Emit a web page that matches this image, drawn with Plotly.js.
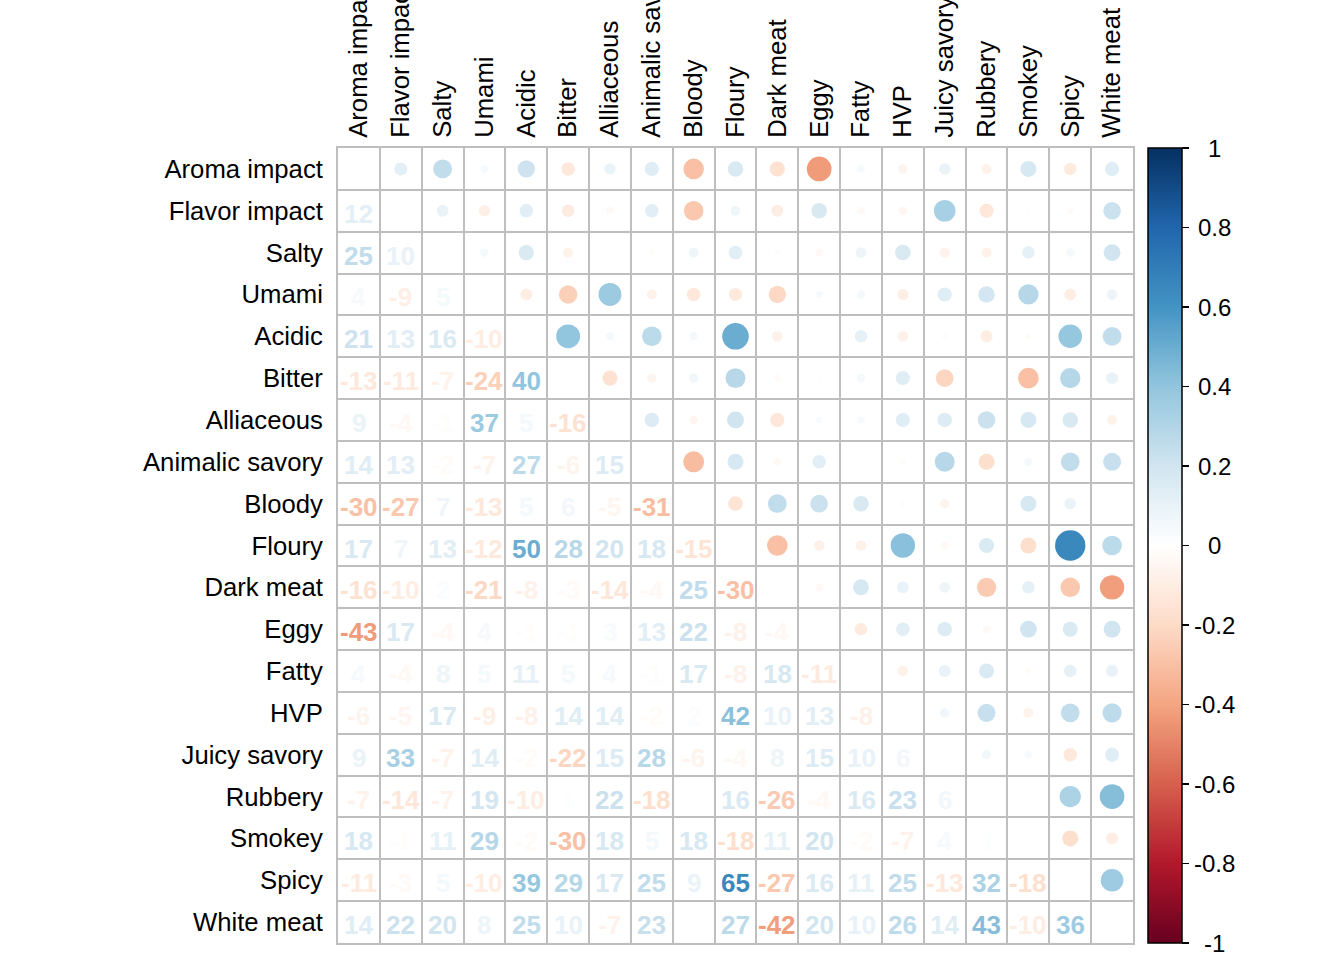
<!DOCTYPE html>
<html><head><meta charset="utf-8">
<script src="https://cdn.plot.ly/plotly-3.0.1.min.js"></script>
<style>body{margin:0;background:#fff}</style>
</head><body><div id="chart" style="width:1344px;height:960px"></div>
<script>
const labels = ["Aroma impact","Flavor impact","Salty","Umami","Acidic","Bitter","Alliaceous","Animalic savory","Bloody","Floury","Dark meat","Eggy","Fatty","HVP","Juicy savory","Rubbery","Smokey","Spicy","White meat"];
// lower triangle, correlation x 100 (row i, columns 0..i-1)
const corrLower = [
  [],
  [12],
  [25,10],
  [4,-9,5],
  [21,13,16,-10],
  [-13,-11,-7,-24,40],
  [9,-4,-1,37,5,-16],
  [14,13,-2,-7,27,-6,15],
  [-30,-27,7,-13,5,6,-5,-31],
  [17,7,13,-12,50,28,20,18,-15],
  [-16,-10,2,-21,-8,-3,-14,-4,25,-30],
  [-43,17,-4,4,-1,-1,3,13,22,-8,-4],
  [4,-4,8,5,11,5,4,-1,17,-8,18,-11],
  [-6,-5,17,-9,-8,14,14,-2,2,42,10,13,-8],
  [9,33,-7,14,-2,-22,15,28,-6,-4,8,15,10,6],
  [-7,-14,-7,19,-10,1,22,-18,0,16,-26,-4,16,23,6],
  [18,-1,11,29,-2,-30,18,5,18,-18,11,20,-2,-7,4,1],
  [-11,-3,5,-10,39,29,17,25,9,65,-27,16,11,25,-13,32,-18],
  [14,22,20,8,25,10,-7,23,0,27,-42,20,10,26,14,43,-10,36]
];
const colorStops = ["#67001F","#B2182B","#D6604D","#F4A582","#FDDBC7","#FFFFFF","#D1E5F0","#92C5DE","#4393C3","#2166AC","#053061"];
const cbTickVals = [-1,-0.8,-0.6,-0.4,-0.2,0,0.2,0.4,0.6,0.8,1];
const cbTickText = ["-1","-0.8","-0.6","-0.4","-0.2","0","0.2","0.4","0.6","0.8","1"];

function hex2rgb(h){return [parseInt(h.slice(1,3),16),parseInt(h.slice(3,5),16),parseInt(h.slice(5,7),16)];}
function colorFor(v){
  const t=(v+1)/2*(colorStops.length-1);
  const i=Math.min(Math.floor(t),colorStops.length-2);
  const f=t-i;
  const a=hex2rgb(colorStops[i]), b=hex2rgb(colorStops[i+1]);
  const c=a.map((x,k)=>Math.round(x+(b[k]-x)*f));
  return 'rgb('+c.join(',')+')';
}
const colorscale = colorStops.map((c,i)=>[i/(colorStops.length-1),c]);

const W=1344,H=960, mL=338, mT=148, mR=1344-1133, mB=960-943;
const n=labels.length;
const plotW=W-mL-mR;
const cell=plotW/n;
const font="Liberation Sans, Arial, sans-serif";

const annotations=[];
const cx=[],cy=[],cv=[],cs=[];
for(let i=0;i<n;i++){
  for(let j=0;j<i;j++){
    const v=corrLower[i][j]/100;
    annotations.push({x:labels[j],y:labels[i],xref:'x',yref:'y',text:String(corrLower[i][j]),showarrow:false,
      yshift:-3,font:{family:font,size:26,color:colorFor(v),weight:'bold'}});
    cx.push(labels[i]); cy.push(labels[j]); cv.push(v); cs.push(0.9*Math.sqrt(Math.abs(v))*cell);
  }
}
// colorbar tick labels, centred like the reference
cbTickVals.forEach((v,k)=>{
  annotations.push({x:(1214-mL)/plotW,y:(v+1)/2,xref:'paper',yref:'paper',xanchor:'center',yanchor:'middle',
    text:cbTickText[k],showarrow:false,font:{family:font,size:24,color:'#000'}});
});

const traces=[
  {type:'scatter',mode:'markers',x:cx,y:cy,hoverinfo:'skip',
   marker:{size:cs,sizemode:'diameter',color:cv,colorscale:colorscale,cmin:-1,cmax:1,line:{width:0},opacity:1,
     showscale:true,
     colorbar:{x:(1148-mL)/plotW,xanchor:'left',y:0.5,yanchor:'middle',len:1,lenmode:'fraction',thickness:34,
       xpad:0,ypad:0,outlinecolor:'#000',outlinewidth:1.5,ticks:'outside',ticklen:7,tickwidth:1.5,tickcolor:'#000',
       tickvals:cbTickVals,showticklabels:false}}}
];
const layout={
  width:W,height:H,margin:{l:mL,r:mR,t:mT,b:mB},paper_bgcolor:'#fff',plot_bgcolor:'#fff',showlegend:false,
  annotations:annotations,
  xaxis:{type:'category',categoryarray:labels,categoryorder:'array',range:[-0.5,n-0.5],side:'top',tickangle:-90,
    tickson:'boundaries',showgrid:true,gridcolor:'#BEBEBE',gridwidth:2,ticks:'',showline:true,mirror:true,linecolor:'#BEBEBE',linewidth:2,
    ticklabelstandoff:3,tickfont:{family:font,size:25.7,color:'#000'},automargin:false,zeroline:false,fixedrange:true},
  yaxis:{type:'category',categoryarray:labels,categoryorder:'array',range:[n-0.5,-0.5],
    tickson:'boundaries',showgrid:true,gridcolor:'#BEBEBE',gridwidth:2,ticks:'',showline:true,mirror:true,linecolor:'#BEBEBE',linewidth:2,
    ticklabelstandoff:8,tickfont:{family:font,size:25.7,color:'#000'},automargin:false,zeroline:false,fixedrange:true}
};
Plotly.newPlot('chart',traces,layout,{staticPlot:true,displayModeBar:false});
</script></body></html>
